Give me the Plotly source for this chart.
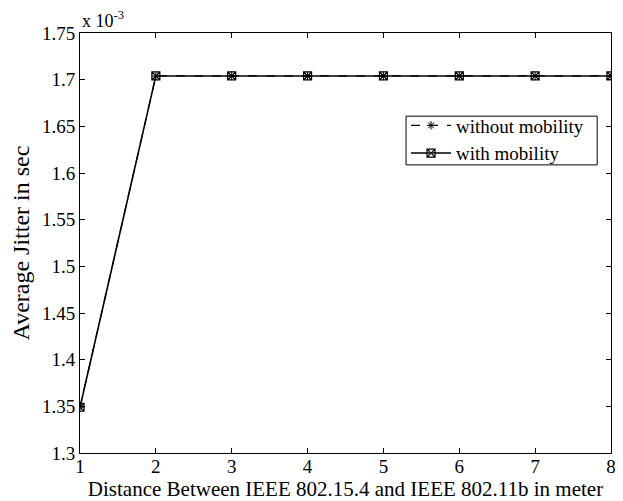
import plotly.graph_objects as go

# ─── DATA ─────────────────────────────────────────────────────
distance = [1, 2, 3, 4, 5, 6, 7, 8]
jitter_without = [1.349e-3, 1.704e-3, 1.704e-3, 1.704e-3, 1.704e-3, 1.704e-3, 1.704e-3, 1.704e-3]
jitter_with = [1.349e-3, 1.704e-3, 1.704e-3, 1.704e-3, 1.704e-3, 1.704e-3, 1.704e-3, 1.704e-3]
y_ticks = [1.3e-3, 1.35e-3, 1.4e-3, 1.45e-3, 1.5e-3, 1.55e-3, 1.6e-3, 1.65e-3, 1.7e-3, 1.75e-3]
y_ticktext = ["1.3", "1.35", "1.4", "1.45", "1.5", "1.55", "1.6", "1.65", "1.7", "1.75"]

FONT = "Liberation Serif"
INK = "#000000"

fig = go.Figure()
fig.add_trace(go.Scatter(
    x=distance, y=jitter_without, name="without mobility",
    mode="lines+markers",
    line=dict(color=INK, width=1.2, dash="dash"),
    marker=dict(symbol="asterisk-open", size=7, color=INK, line=dict(width=1, color=INK)),
))
fig.add_trace(go.Scatter(
    x=distance, y=jitter_with, name="with mobility",
    mode="lines+markers",
    line=dict(color=INK, width=1.6),
    marker=dict(symbol="square-x-open", size=8, color=INK, line=dict(width=1.2, color=INK)),
))

axis = dict(
    showline=True, linecolor=INK, linewidth=1, mirror="ticks",
    ticks="inside", ticklen=5, tickcolor=INK,
    showgrid=False, zeroline=False, automargin=False,
    tickfont=dict(family=FONT, size=19, color=INK),
)

# page body has an 8px margin, so the figure is shrunk to fit the window
fig.update_layout(
    width=615, height=493,
    paper_bgcolor="white", plot_bgcolor="white",
    margin=dict(l=72, r=12, t=25, b=48),
    font=dict(family=FONT, color=INK, size=19),
    xaxis=dict(
        range=[1, 8], tickvals=distance, ticklabelstandoff=-4,
        title=dict(text="Distance Between IEEE 802.15.4 and IEEE 802.11b in meter",
                   font=dict(family=FONT, size=21), standoff=3),
        **axis,
    ),
    yaxis=dict(
        range=[1.3e-3, 1.75e-3], tickvals=y_ticks, ticktext=y_ticktext,
        title=dict(text="Average Jitter in sec", font=dict(family=FONT, size=24), standoff=8),
        **axis,
    ),
    legend=dict(
        x=0.614, y=0.825, xanchor="left", yanchor="top",
        bgcolor="rgba(0,0,0,0)", borderwidth=0,
        font=dict(family=FONT, size=19, color=INK),
        tracegroupgap=0, itemwidth=40,
    ),
    # tighter legend frame than plotly's own padded box
    shapes=[dict(
        type="rect", xref="paper", yref="paper",
        x0=0.614, x1=0.974, y0=0.686, y1=0.802,
        line=dict(color=INK, width=1), fillcolor="white", layer="above",
    )],
    annotations=[dict(
        x=0, y=1, xref="paper", yref="paper", xanchor="left", yanchor="bottom",
        text="x 10<sup>-3</sup>", showarrow=False,
        font=dict(family=FONT, size=18, color=INK),
    )],
)

fig.write_html("out.html")
